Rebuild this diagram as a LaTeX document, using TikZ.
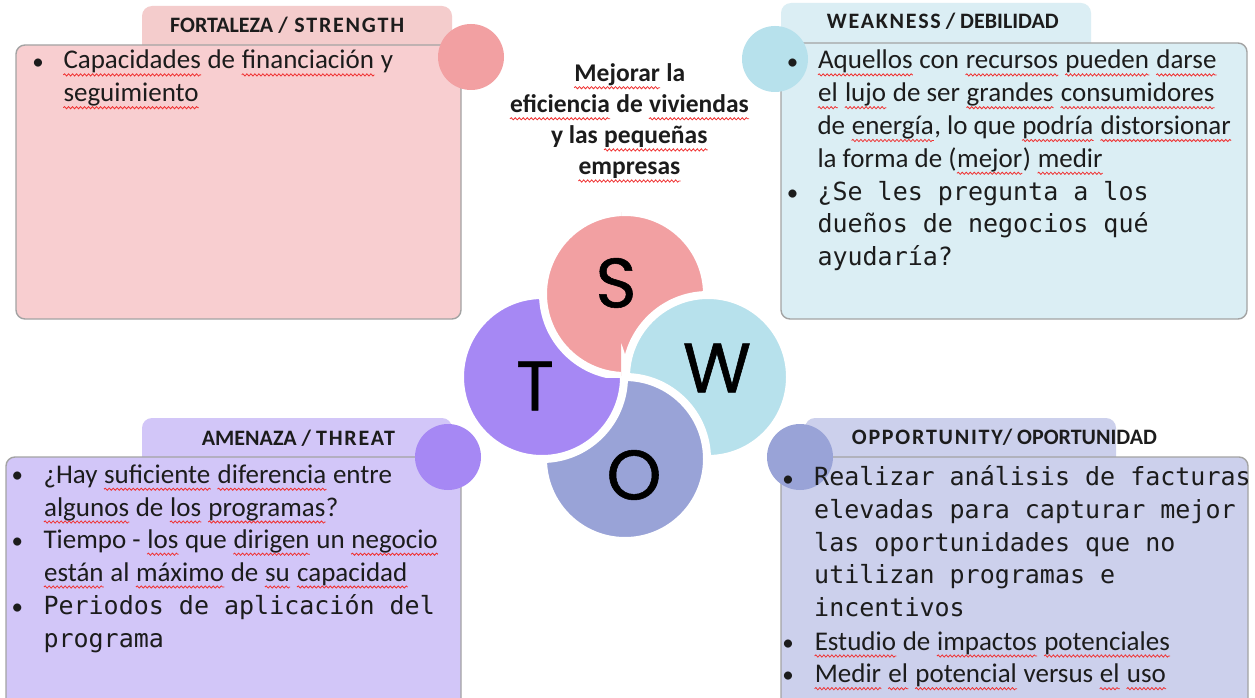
\documentclass[tikz,border=0pt]{standalone}
\usepackage{fontspec}
\setmainfont{Carlito}
\newfontfamily\monofont{DejaVu Sans Mono}
\newfontfamily\swotfont[FakeBold=0.8]{Poppins}
\newfontfamily\spacedfont[LetterSpace=8]{Carlito}
\usepackage{tikz}
\usetikzlibrary{decorations.pathmorphing}

\definecolor{sPink}{HTML}{F2A0A2}
\definecolor{sTab}{HTML}{F4CCCC}
\definecolor{sBox}{HTML}{F8CED0}
\definecolor{wBlue}{HTML}{B7E1EC}
\definecolor{wBox}{HTML}{DBEEF4}
\definecolor{tPurple}{HTML}{A688F4}
\definecolor{tBox}{HTML}{D2C6F8}
\definecolor{oBlue}{HTML}{99A3D7}
\definecolor{oBox}{HTML}{CCD0EC}
\definecolor{boxgray}{HTML}{A3A3A3}
\definecolor{ink}{HTML}{1C1C1C}
\definecolor{spell}{HTML}{F03030}

% spell-check squiggle under a word
\newcommand\sq[1]{\tikz[baseline=(w.base),x=1pt,y=1pt]{\node[inner sep=0pt,anchor=base] (w) {#1};
  \draw[spell,line width=0.8pt,decorate,decoration={snake,amplitude=1.1pt,segment length=4pt}]
    ([yshift=-6pt]w.base west) -- ([yshift=-6pt]w.base east);}}

\begin{document}
\begin{tikzpicture}[x=1pt,y=-1pt]
  \tikzset{TabStyle/.style={rounded corners=10pt},
    BoxStyle/.style={draw=boxgray,line width=1.4pt,rounded corners=9pt},
    DotStyle/.style={circle,inner sep=0pt,minimum size=66pt},
    PetalStyle/.style={circle,draw=white,line width=8pt,inner sep=0pt,minimum size=164pt},
    LetterStyle/.style={inner sep=0pt,font=\swotfont\fontsize{70}{70}\selectfont},
    HeadStyle/.style={anchor=base west,inner sep=0pt,text=ink,font=\fontsize{22}{26}\selectfont},
    ItemStyle/.style={anchor=base west,align=left,inner sep=0pt,text=ink,font=\fontsize{27}{32.8}\selectfont},
    CodeStyle/.style={anchor=base west,align=left,inner sep=0pt,text=ink,font=\monofont\fontsize{25}{32.8}\selectfont},
    BulletStyle/.style={anchor=base,inner sep=0pt,text=ink,font=\fontsize{23}{30}\selectfont}}
  \useasboundingbox (0,0) rectangle (1255,698);
  \clip (0,0) rectangle (1255,698);
  \fill[white] (0,0) rectangle (1255,698);
  % quadrant TL
  \fill[TabStyle,sTab] (142,6) rectangle (452,60);
  \fill[BoxStyle,fill=sBox] (16,45) rectangle (461,319);
  \node[DotStyle,fill=sPink] (dotS) at (471,57) {};
  % quadrant TR
  \fill[TabStyle,wBox] (781,3) rectangle (1091,60);
  \fill[BoxStyle,fill=wBox] (781,43) rectangle (1247,319);
  \node[DotStyle,fill=wBlue] (dotW) at (775,59) {};
  % quadrant BL
  \fill[TabStyle,tBox] (142,418) rectangle (452,470);
  \fill[BoxStyle,fill=tBox] (6,457) rectangle (461,712);
  \node[DotStyle,fill=tPurple] (dotT) at (448,457) {};
  % quadrant BR
  \fill[TabStyle,oBox] (805,418) rectangle (1116,470);
  \fill[BoxStyle,fill=oBox] (781,457) rectangle (1248,712);
  \node[DotStyle,fill=oBlue] (dotO) at (800,457) {};
  % petals
  \node[PetalStyle,fill=sPink] (petS) at (625,294) {};
  \node[PetalStyle,fill=wBlue] (petW) at (708,377) {};
  \node[PetalStyle,fill=oBlue] (petO) at (625,459) {};
  \node[PetalStyle,fill=tPurple] (petT) at (542,377) {};
  \begin{scope}
    \clip (520,190) rectangle (621,377);
    \node[PetalStyle,fill=sPink] (petS2) at (625,294) {};
  \end{scope}
  \node[LetterStyle] (letS) at (616,283) {S};
  \node[LetterStyle] (letW) at (717,368) {W};
  \node[LetterStyle] (letT) at (535,386) {T};
  \node[LetterStyle] (letO) at (634,475) {O};
  % title (anchored at its last baseline)
  \node[anchor=base,align=center,inner sep=0pt,text=ink,font=\bfseries\fontsize{25.5}{31.1}\selectfont] (title) at (629.5,175)
    {\sq{Mejorar} la\\\sq{eficiencia} de \sq{viviendas}\\y las \sq{pequeñas}\\\sq{empresas}};
  % headings
  \node[HeadStyle] (headS) at (170,32.3) {\bfseries FORTALEZA {\spacedfont/ STRENGTH}};
  \node[HeadStyle] (headW) at (826.7,29) {{\spacedfont\bfseries WEAKNESS} \bfseries/ DEBILIDAD};
  \node[HeadStyle] (headT) at (201.7,445) {\bfseries AMENAZA / {\spacedfont THREAT}};
  \node[HeadStyle] (headO) at (851.7,444.3) {{\spacedfont\bfseries OPPORTUNITY}\bfseries/ OPORTUNIDAD};
  % items TL
  \node[BulletStyle] (bS1) at (38,69.5) {•};
  \node[ItemStyle] (itS1) at (62.7,101.7) {\sq{Capacidades} de \sq{financiación} y\\\sq{seguimiento}};
  % items TR
  \node[BulletStyle] (bW1) at (792.7,69.3) {•};
  \node[ItemStyle] (itW1) at (817.3,167.3)
    {\sq{Aquellos} con \sq{recursos} \sq{pueden} \sq{darse}\\\sq{el} \sq{lujo} de ser \sq{grandes} \sq{consumidores}\\de \sq{energía}, lo que \sq{podría} \sq{distorsionar}\\la forma de (\sq{mejor}) \sq{medir}};
  \node[BulletStyle] (bW2) at (792.7,200) {•};
  \node[CodeStyle] (itW2) at (817.3,265.7) {¿Se les pregunta a los\\dueños de negocios qué\\ayudaría?};
  % items BL
  \node[BulletStyle] (bT1) at (17.3,482.7) {•};
  \node[ItemStyle] (itT1) at (43.3,516) {¿Hay \sq{suficiente} \sq{diferencia} entre\\\sq{algunos} de \sq{los} \sq{programas}?};
  \node[BulletStyle] (bT2) at (17.3,548.3) {•};
  \node[ItemStyle] (itT2) at (43.3,581) {Tiempo - \sq{los} que \sq{dirigen} un \sq{negocio}\\\sq{están} al \sq{máximo} de \sq{su} \sq{capacidad}};
  \node[BulletStyle] (bT3) at (17.3,614) {•};
  \node[CodeStyle] (itT3) at (43.3,647.3) {Periodos de aplicación del\\programa};
  % items BR
  \node[BulletStyle] (bO1) at (788,486) {•};
  \node[CodeStyle] (itO1) at (814,616.7) {Realizar análisis de facturas\\elevadas para capturar mejor\\las oportunidades que no\\utilizan programas e\\incentivos};
  \node[BulletStyle] (bO2) at (788,650) {•};
  \node[ItemStyle] (itO2) at (814,650) {\sq{Estudio} de \sq{impactos} \sq{potenciales}};
  \node[BulletStyle] (bO3) at (788,682.7) {•};
  \node[ItemStyle] (itO3) at (814,682.7) {\sq{Medir} \sq{el} \sq{potencial} versus \sq{el} \sq{uso}};
\end{tikzpicture}
\end{document}
